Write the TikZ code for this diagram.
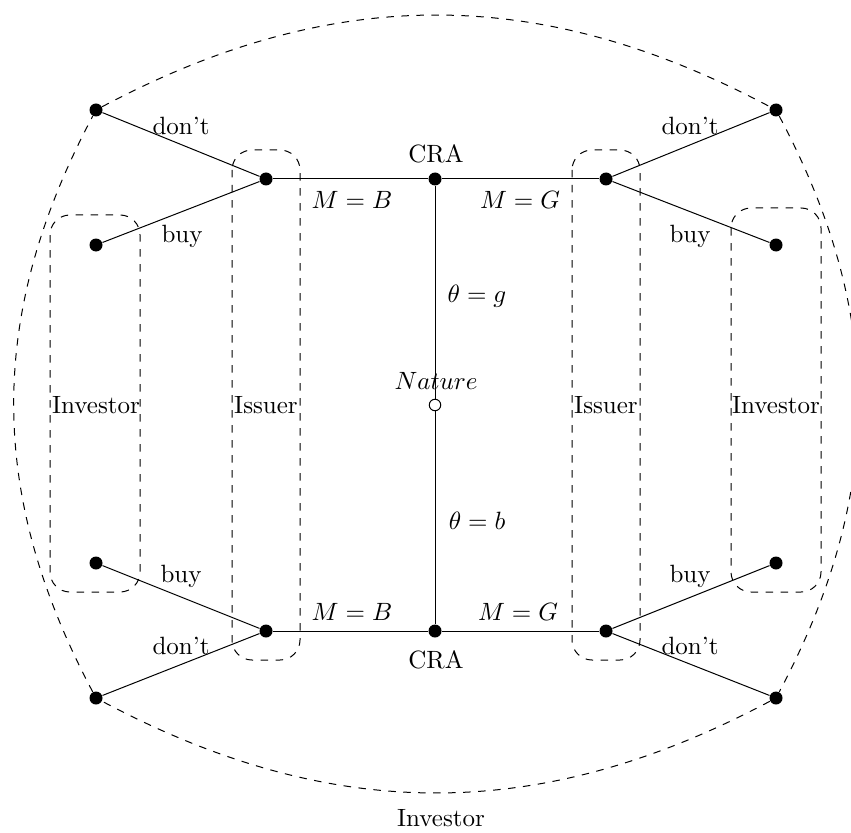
\documentclass[tikz,border=0pt]{standalone}
\begin{document}
\begin{tikzpicture}[x=0.4pt,y=0.4pt,
  dotnode/.style={circle,fill,inner sep=0pt,minimum size=5.2pt},
  opennode/.style={circle,draw,fill=white,inner sep=0pt,minimum size=4.6pt},
  infoset/.style={draw,dashed,rounded corners=8pt},
  lbl/.style={inner sep=0pt}]
\useasboundingbox (0,0) rectangle (851,-832);
% information sets
\draw[infoset] (50,-215) rectangle (140,-592);
\draw[infoset] (232,-150) rectangle (300,-660);
\draw[infoset] (572,-150) rectangle (640,-660);
\draw[infoset] (731,-208) rectangle (821,-592);
\node[lbl] (invL) at (96,-405) {Investor};
\node[lbl] (issL) at (266,-405) {Issuer};
\node[lbl] (issR) at (606,-405) {Issuer};
\node[lbl] (invR) at (776,-405) {Investor};
% nodes
\node[opennode] (nat) at (435,-405) {};
\node[dotnode] (craT) at (435,-179) {};
\node[dotnode] (craB) at (435,-631) {};
\node[dotnode] (iTL) at (266,-179) {};
\node[dotnode] (iTR) at (606,-179) {};
\node[dotnode] (iBL) at (266,-631) {};
\node[dotnode] (iBR) at (606,-631) {};
\node[dotnode] (t1) at (96,-110) {};
\node[dotnode] (t2) at (96,-245) {};
\node[dotnode] (t3) at (776,-110) {};
\node[dotnode] (t4) at (776,-245) {};
\node[dotnode] (t5) at (96,-563) {};
\node[dotnode] (t6) at (96,-698) {};
\node[dotnode] (t7) at (776,-563) {};
\node[dotnode] (t8) at (776,-698) {};
% edges
\draw (nat) -- (craT);
\draw (nat) -- (craB);
\draw (craT) -- (iTL);
\draw (craT) -- (iTR);
\draw (craB) -- (iBL);
\draw (craB) -- (iBR);
\draw (iTL) -- (t1);
\draw (iTL) -- (t2);
\draw (iTR) -- (t3);
\draw (iTR) -- (t4);
\draw (iBL) -- (t5);
\draw (iBL) -- (t6);
\draw (iBR) -- (t7);
\draw (iBR) -- (t8);
% big information set
\draw[dashed] (t1) to[bend left=28] (t3);
\draw[dashed] (t3) to[bend left=28] (t8);
\draw[dashed] (t8) to[bend left=28] (t6);
\draw[dashed] (t6) to[bend left=28] (t1);
% labels
\node[lbl] (lnat) at (436,-381) {$Nature$};
\node[lbl] (lcraT) at (436,-154) {CRA};
\node[lbl] (lcraB) at (436,-660) {CRA};
\node[lbl] (lthg) at (477,-296) {$\theta=g$};
\node[lbl] (lthb) at (477,-521) {$\theta=b$};
\node[lbl] (lmbT) at (352,-200) {$M=B$};
\node[lbl] (lmgT) at (520,-200) {$M=G$};
\node[lbl] (lmbB) at (352,-612) {$M=B$};
\node[lbl] (lmgB) at (518,-612) {$M=G$};
\node[lbl] (d1) at (181,-126) {don't};
\node[lbl] (b1) at (182,-236) {buy};
\node[lbl] (d2) at (690,-126) {don't};
\node[lbl] (b2) at (690,-236) {buy};
\node[lbl] (b3) at (181,-576) {buy};
\node[lbl] (d3) at (181,-646) {don't};
\node[lbl] (b4) at (690,-576) {buy};
\node[lbl] (d4) at (690,-646) {don't};
\node[lbl] (invBot) at (441,-818) {Investor};
\end{tikzpicture}
\end{document}
